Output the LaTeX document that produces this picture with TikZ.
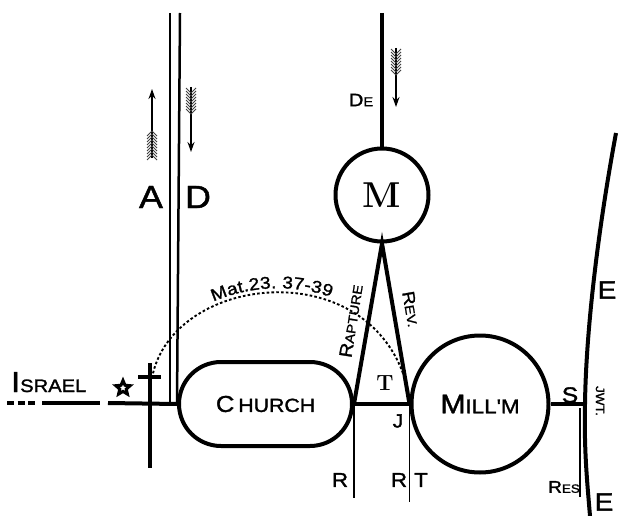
\documentclass[tikz,border=0pt]{standalone}
\usepackage{fontspec}
\newfontfamily\labfont{Liberation Sans}[FakeStretch=1.12, FakeBold=1.5]
\newcommand{\sz}[1]{\fontsize{#1}{#1}\selectfont}
\usetikzlibrary{arrows.meta, decorations.text, shapes.geometric, shapes.misc, positioning}

\begin{document}
\begin{tikzpicture}[x=1pt, y=-1pt,
    >={Stealth[length=10pt, width=7pt]}, % arrow tips
    heavy/.style={line width=4pt}, % outlines and main lines
    twinline/.style={line width=2.5pt}, % the two lines A and D
    thinline/.style={line width=1.6pt},
    shaft/.style={line width=1.7pt, ->},
    feather/.style={line width=0.9pt, black!75},
    lab/.style={font=\labfont, inner sep=0pt},
    arcline/.style={line width=1.9pt, dash pattern=on 2.6pt off 2.2pt}
]

    \useasboundingbox (0,0) rectangle (618,516);

    % Stations
    \node[heavy, draw, circle, minimum size=93pt, inner sep=0pt, font=\bfseries\sz{36}] (M) at (382,195) {M};
    \node[heavy, draw, rounded rectangle, minimum width=173pt, minimum height=84pt, lab] (church) at (265.5,404) {\sz{23}C\,\sz{19}HURCH};
    \node[heavy, draw, circle, minimum size=137pt, lab] (mill) at (480,404) {\sz{27}M\sz{20}ILL'M};

    % Lines A and D
    \coordinate (aTop) at (170,13);
    \coordinate (aBot) at (170,403);
    \coordinate (dTop) at (180,13);
    \draw[twinline] (aTop) -- (aBot);
    \draw[twinline] (dTop) -- (church.west);

    % Line of Israel
    \coordinate (israelW) at (7,403);
    \coordinate (dashE) at (38,403);
    \coordinate (solidW) at (42,403);
    \coordinate (solidE) at (100,403);
    \coordinate (gapE) at (108,403);
    \draw[heavy, dash pattern=on 7pt off 3.5pt] (israelW) -- (dashE);
    \draw[heavy] (solidW) -- (solidE);
    \draw[heavy] (gapE) -- (church.west);

    % Cross and star
    \coordinate (crossTop) at (150,363);
    \coordinate (crossBot) at (150,468);
    \coordinate (barL) at (138,377);
    \coordinate (barR) at (161,377);
    \draw[heavy] (crossTop) -- (crossBot);
    \draw[heavy] (barL) -- (barR);
    \node[star, star points=5, star point ratio=2.2, draw, line width=3pt, minimum size=15pt, inner sep=0pt] (star) at (123,388) {};

    % Triangle and the line under it
    \draw[heavy, line join=miter] (church.east) -- (M.south) -- (mill.west);
    \draw[heavy] (church.east) -- (mill.west);
    \draw[thinline] (church.east) -- ++(0,94);
    \draw[thinline] (mill.west) -- ++(0,98);

    % Line above M
    \coordinate (deTop) at (382,13);
    \draw[heavy] (deTop) -- (M.north);

    % Line E
    \coordinate (jwt) at (585,404);
    \coordinate (Etop) at (616,133);
    \coordinate (Ebot) at (590,516);
    \draw[heavy] (mill.east) -- (jwt);
    \draw[heavy] (Etop) .. controls (598,230) and (586,330) .. (jwt) .. controls (584,450) and (587,480) .. (Ebot);
    \coordinate (resTop) at (580,408);
    \coordinate (resBot) at (580,497);
    \draw[thinline] (resTop) -- (resBot);

    % Feathered arrows
    \draw[shaft] (152,158) -- (152,89);
    \foreach \y in {131,134,...,155} \draw[feather] (147,\y+5) -- (152,\y) -- (157,\y+5);
    \draw[shaft] (191,87) -- (191,152);
    \foreach \y in {93,96,...,114} \draw[feather] (186,\y-5) -- (191,\y) -- (196,\y-5);
    \draw[shaft] (396,48) -- (396,107);
    \foreach \y in {54,57,...,76} \draw[feather] (391,\y-5) -- (396,\y) -- (401,\y-5);

    % Dotted arc with its reference
    \coordinate (arcS) at (152,378);
    \coordinate (arcE) at (410,400);
    \draw[arcline] (arcS) .. controls (172,270) and (385,250) .. (arcE);
    \path[decorate, decoration={text along path, text align={left indent=100pt}, raise=4pt,
        text={|\labfont\sz{17}|Mat.23. 37-39}}] (arcS) .. controls (172,270) and (385,250) .. (arcE);

    % Labels
    \node[lab, anchor=base west] (israel) at (11,392) {\sz{29}I\sz{18}SRAEL};
    \node[lab] (A) at (151,197) {\sz{32}A};
    \node[lab] (D) at (198,197) {\sz{32}D};
    \node[lab] (De) at (361,100) {\sz{18}D\sz{13}E};
    \node[lab, rotate=81] (rapture) at (351,321) {\sz{18}R\sz{13}APTURE};
    \node[lab, rotate=-80] (rev) at (411,309) {\sz{17}R\sz{13}EV.};
    \node[inner sep=0pt, font=\bfseries\sz{22}] (T) at (385,383) {T};
    \node[lab] (J) at (398,421) {\sz{19}J};
    \node[lab] (R1) at (340,480) {\sz{20}R};
    \node[lab] (R2) at (399,480) {\sz{20}R};
    \node[lab] (T2) at (421,480) {\sz{20}T};
    \node[lab] (S) at (570,395) {\sz{22}S};
    \node[lab] (E1) at (607,290) {\sz{25}E};
    \node[lab] (E2) at (604,502) {\sz{25}E};
    \node[lab, rotate=-90] (jwtlab) at (600,401) {\sz{12}JWT.};
    \node[lab] (res) at (564,487) {\sz{17}R\sz{12}ES};

\end{tikzpicture}
\end{document}
